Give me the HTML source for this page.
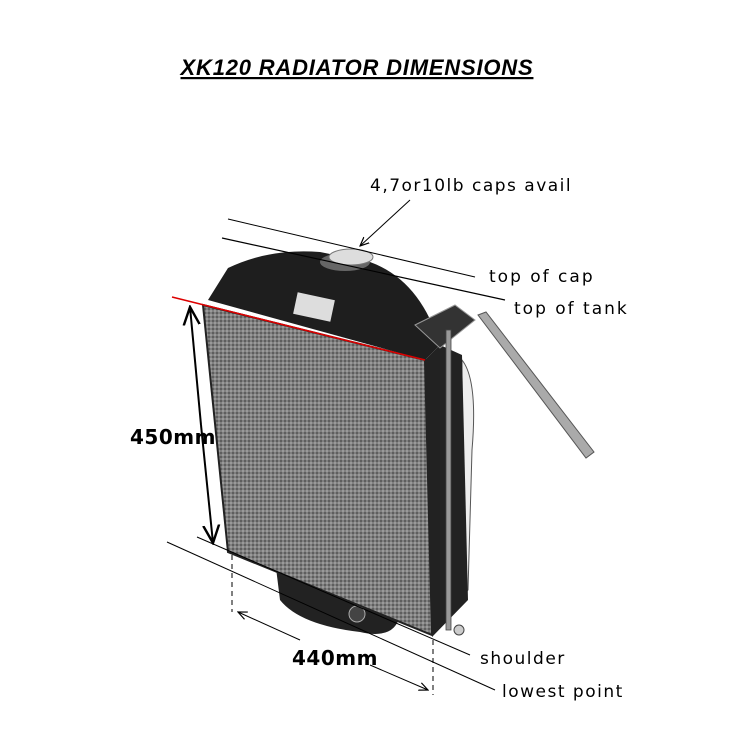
<!DOCTYPE html>
<html><head><style>
body{margin:0;background:#fff}
svg{display:block}
text{font-family:"DejaVu Sans","Liberation Sans",sans-serif}
</style></head><body>
<svg width="750" height="750" viewBox="0 0 750 750" xmlns="http://www.w3.org/2000/svg">
<defs>
<pattern id="mesh" width="4" height="4" patternUnits="userSpaceOnUse">
<rect width="4" height="4" fill="#808080"/>
<rect width="2" height="2" fill="#5e5e5e"/>
<rect x="2" y="2" width="2" height="2" fill="#9a9a9a"/>
</pattern>
<marker id="ah" markerWidth="10" markerHeight="10" refX="9" refY="5" orient="auto"><path d="M0,1 L9,5 L0,9" fill="none" stroke="#000" stroke-width="1.2"/></marker>
</defs>
<text x="357" y="75" text-anchor="middle" font-weight="bold" font-style="italic" font-size="22" letter-spacing="0.8" text-decoration="underline" style="font-family:'Liberation Sans',sans-serif">XK120 RADIATOR DIMENSIONS</text>
<path d="M478,315 L486,312 L594,452 L586,458 Z" fill="#aaa" stroke="#555"/>
<path d="M462,360 Q478,380 472,450 L468,590 L460,600 Z" fill="#eee" stroke="#555"/>
<path d="M208,300 L228,268 Q270,248 320,252 L370,262 Q420,280 440,345 L425,360 Z" fill="#1e1e1e"/>
<rect x="295" y="296" width="38" height="22" fill="#ddd" transform="rotate(12 314 307)"/>
<ellipse cx="345" cy="262" rx="25" ry="9" fill="#666"/>
<ellipse cx="351" cy="257" rx="22" ry="8" fill="#ddd" stroke="#777"/>
<path d="M425,360 L440,345 L462,355 L468,600 L432,637 Z" fill="#222"/>
<path d="M415,325 L455,305 L475,320 L440,348 Z" fill="#333" stroke="#999"/>
<path d="M275,560 L400,615 Q395,640 360,632 Q300,625 280,600 Z" fill="#222"/>
<circle cx="357" cy="614" r="8" fill="#444" stroke="#aaa"/>
<path d="M203,305 L425,360 L432,635 L228,552 Z" fill="url(#mesh)" stroke="#222" stroke-width="2"/>
<rect x="446" y="330" width="5" height="300" fill="#999" stroke="#444" stroke-width="0.8"/>
<circle cx="459" cy="630" r="5" fill="#ccc" stroke="#444"/>
<line x1="228" y1="219" x2="475" y2="277" stroke="#000" stroke-width="1"/>
<line x1="222" y1="238" x2="505" y2="300" stroke="#000" stroke-width="1.2"/>
<line x1="172" y1="297" x2="425" y2="360" stroke="#d00" stroke-width="1.5"/>
<line x1="410" y1="200" x2="360" y2="246" stroke="#000" stroke-width="1" marker-end="url(#ah)"/>
<line x1="201" y1="425" x2="190" y2="307" stroke="#000" stroke-width="2" marker-end="url(#ah)"/>
<line x1="201" y1="425" x2="213" y2="543" stroke="#000" stroke-width="2" marker-end="url(#ah)"/>
<line x1="197" y1="537" x2="470" y2="655" stroke="#000" stroke-width="1"/>
<line x1="167" y1="542" x2="495" y2="690" stroke="#000" stroke-width="1"/>
<line x1="232" y1="555" x2="232" y2="612" stroke="#000" stroke-width="1" stroke-dasharray="5,4"/>
<line x1="433" y1="640" x2="433" y2="695" stroke="#000" stroke-width="1" stroke-dasharray="5,4"/>
<line x1="300" y1="640" x2="238" y2="612" stroke="#000" stroke-width="1" marker-end="url(#ah)"/>
<line x1="370" y1="665" x2="428" y2="690" stroke="#000" stroke-width="1" marker-end="url(#ah)"/>
<text x="370" y="191" font-size="17" letter-spacing="1.5">4,7or10lb caps avail</text>
<text x="489" y="282" font-size="17" letter-spacing="2">top of cap</text>
<text x="514" y="314" font-size="17" letter-spacing="2">top of tank</text>
<text x="130" y="444" font-size="20" font-weight="bold" letter-spacing="0.5" style="font-family:'DejaVu Sans',sans-serif">450mm</text>
<text x="292" y="665" font-size="20" font-weight="bold" letter-spacing="0.5" style="font-family:'DejaVu Sans',sans-serif">440mm</text>
<text x="480" y="664" font-size="17" letter-spacing="1.5">shoulder</text>
<text x="502" y="697" font-size="17" letter-spacing="1.5">lowest point</text>
</svg>
</body></html>
